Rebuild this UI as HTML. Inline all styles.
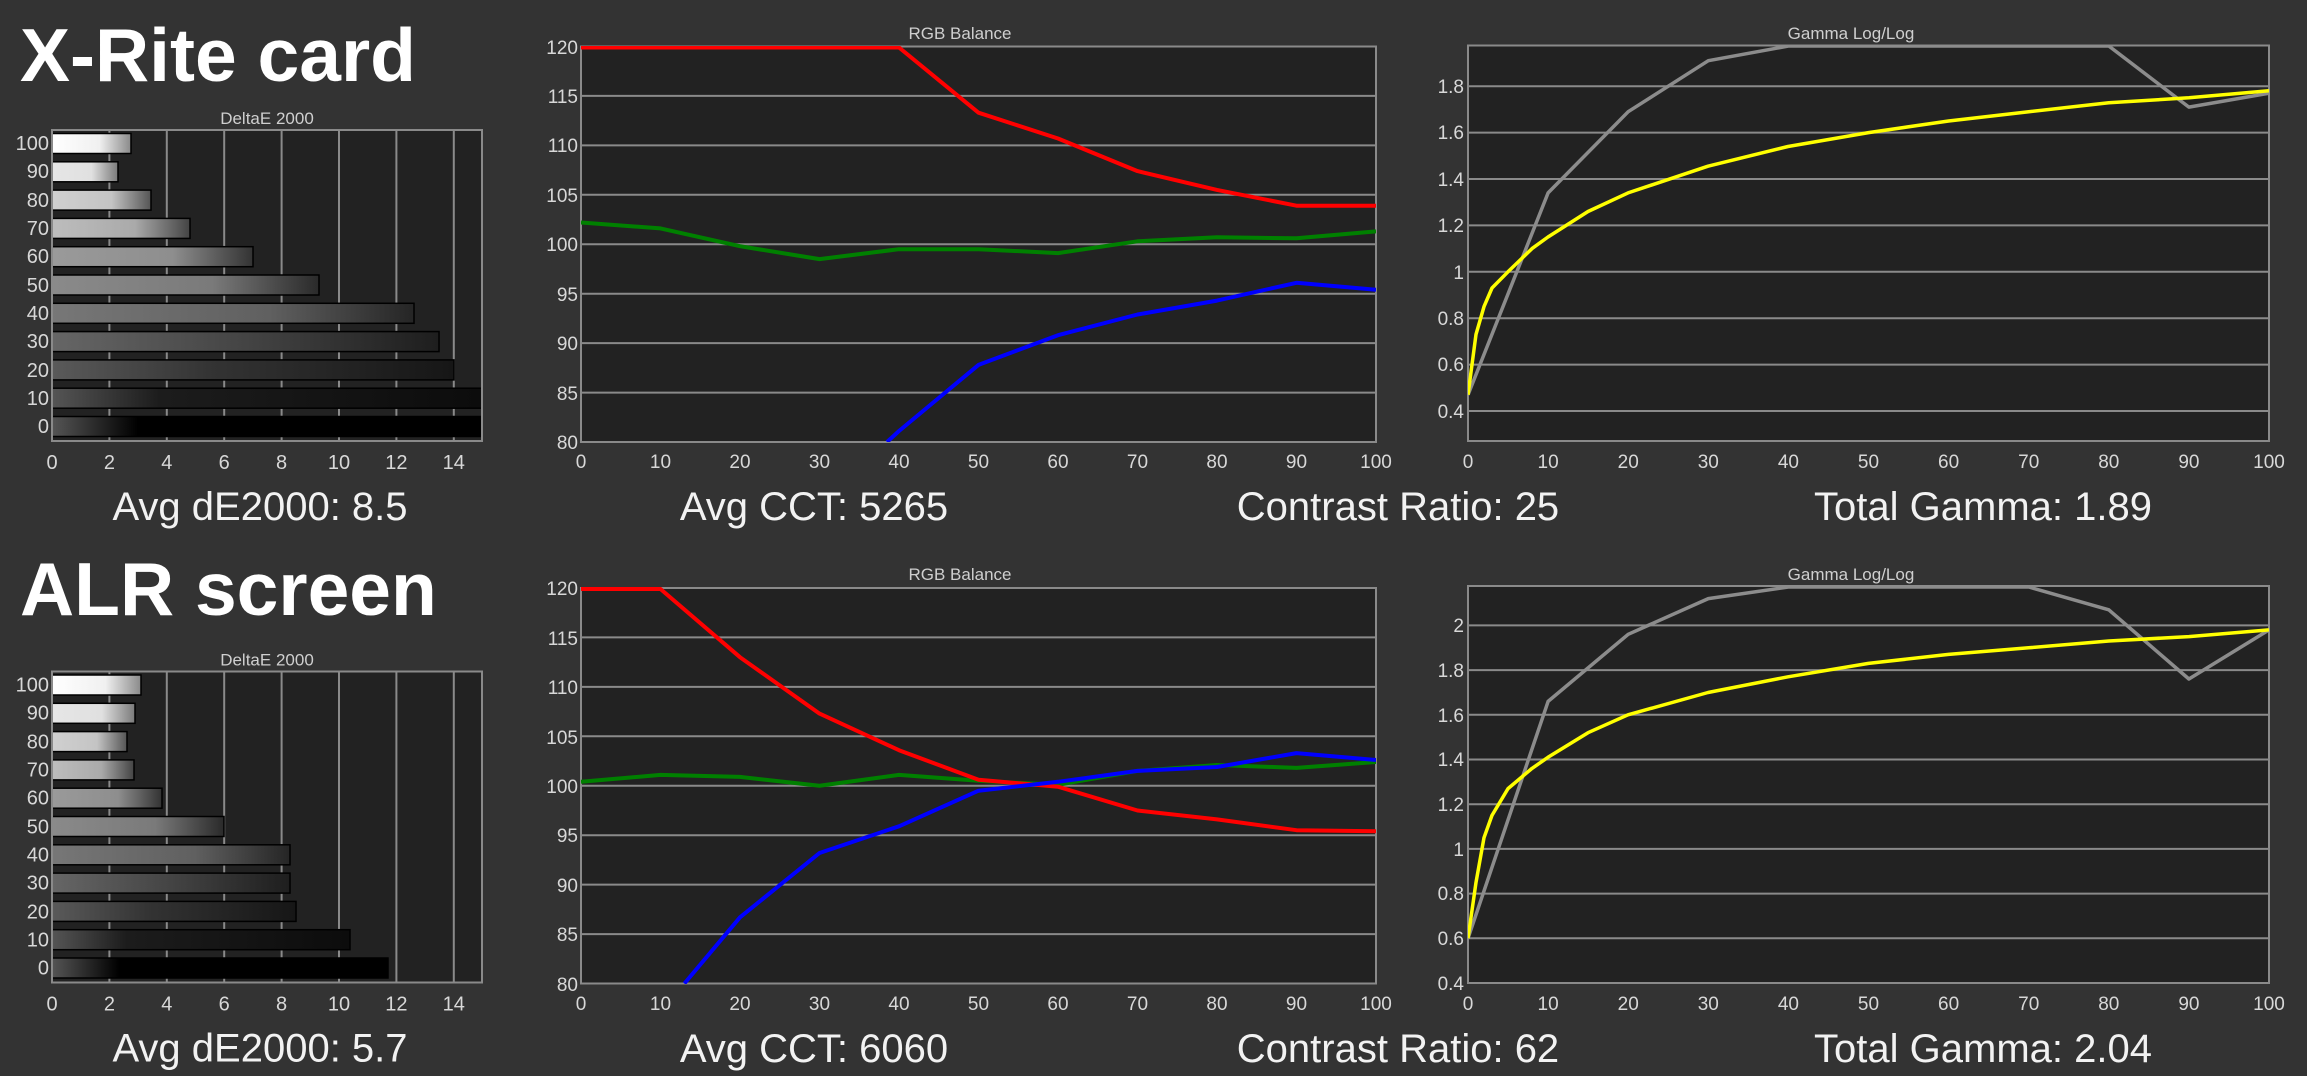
<!DOCTYPE html>
<html><head><meta charset="utf-8"><style>
html,body{margin:0;padding:0;background:#333333;}
svg{display:block;}
text{font-family:"Liberation Sans",sans-serif;fill:#d8d8d8;}
.ax{font-size:19px;}
.dax{font-size:20px;}
.t{font-size:17px;fill:#cfcfcf;}
.big{font-size:75px;font-weight:bold;fill:#fff;}
.st{font-size:40px;fill:#f2f2f2;}
.g{stroke:#8a8a8a;stroke-width:2;}
</style></head><body>
<svg width="2307" height="1076" viewBox="0 0 2307 1076" xmlns="http://www.w3.org/2000/svg">
<defs>
<linearGradient id="b100"><stop offset="0" stop-color="#fff"/><stop offset=".6" stop-color="#f0f0f0"/><stop offset="1" stop-color="#8a8a8a"/></linearGradient>
<linearGradient id="b90"><stop offset="0" stop-color="#e6e6e6"/><stop offset=".6" stop-color="#e0e0e0"/><stop offset="1" stop-color="#7a7a7a"/></linearGradient>
<linearGradient id="b80"><stop offset="0" stop-color="#d0d0d0"/><stop offset=".6" stop-color="#c4c4c4"/><stop offset="1" stop-color="#555"/></linearGradient>
<linearGradient id="b70"><stop offset="0" stop-color="#bdbdbd"/><stop offset=".6" stop-color="#aaa"/><stop offset="1" stop-color="#444"/></linearGradient>
<linearGradient id="b60"><stop offset="0" stop-color="#9a9a9a"/><stop offset=".6" stop-color="#8e8e8e"/><stop offset="1" stop-color="#333"/></linearGradient>
<linearGradient id="b50"><stop offset="0" stop-color="#8a8a8a"/><stop offset=".6" stop-color="#7a7a7a"/><stop offset="1" stop-color="#2a2a2a"/></linearGradient>
<linearGradient id="b40"><stop offset="0" stop-color="#777"/><stop offset=".6" stop-color="#606060"/><stop offset="1" stop-color="#252525"/></linearGradient>
<linearGradient id="b30"><stop offset="0" stop-color="#666"/><stop offset=".5" stop-color="#444"/><stop offset="1" stop-color="#1e1e1e"/></linearGradient>
<linearGradient id="b20"><stop offset="0" stop-color="#5a5a5a"/><stop offset=".4" stop-color="#333"/><stop offset="1" stop-color="#161616"/></linearGradient>
<linearGradient id="b10"><stop offset="0" stop-color="#555"/><stop offset=".25" stop-color="#1c1c1c"/><stop offset="1" stop-color="#0c0c0c"/></linearGradient>
<linearGradient id="b0"><stop offset="0" stop-color="#555"/><stop offset=".2" stop-color="#000"/><stop offset="1" stop-color="#000"/></linearGradient>
<clipPath id="c1"><rect x="581" y="46" width="795" height="396"/></clipPath>
<clipPath id="c2"><rect x="581" y="587" width="795" height="397"/></clipPath>
<clipPath id="c3"><rect x="1468" y="45" width="801" height="396"/></clipPath>
<clipPath id="c4"><rect x="1468" y="585" width="801" height="398"/></clipPath>
</defs>

<text class="big" x="20" y="81">X-Rite card</text>
<text class="big" x="20" y="615">ALR screen</text>

<g>
<text class="t" x="267" y="124" text-anchor="middle">DeltaE 2000</text>
<rect x="52" y="130" width="430" height="311" fill="#222"/>
<g class="g" stroke="#7a7a7a"><line x1="109.4" y1="130" x2="109.4" y2="441"/><line x1="166.8" y1="130" x2="166.8" y2="441"/><line x1="224.2" y1="130" x2="224.2" y2="441"/><line x1="281.6" y1="130" x2="281.6" y2="441"/><line x1="339" y1="130" x2="339" y2="441"/><line x1="396.4" y1="130" x2="396.4" y2="441"/><line x1="453.8" y1="130" x2="453.8" y2="441"/></g>
<g stroke="#000" stroke-width="1.5">
<rect x="52" y="133.5" width="79" height="20" fill="url(#b100)"/>
<rect x="52" y="161.8" width="66" height="20" fill="url(#b90)"/>
<rect x="52" y="190.1" width="99" height="20" fill="url(#b80)"/>
<rect x="52" y="218.4" width="138" height="20" fill="url(#b70)"/>
<rect x="52" y="246.7" width="201" height="20" fill="url(#b60)"/>
<rect x="52" y="275" width="267" height="20" fill="url(#b50)"/>
<rect x="52" y="303.3" width="362" height="20" fill="url(#b40)"/>
<rect x="52" y="331.6" width="387" height="20" fill="url(#b30)"/>
<rect x="52" y="359.9" width="402" height="20" fill="url(#b20)"/>
<rect x="52" y="388.2" width="430" height="20" fill="url(#b10)"/>
<rect x="52" y="416.5" width="430" height="20" fill="url(#b0)"/>
</g>
<rect x="52" y="130" width="430" height="311" fill="none" stroke="#8a8a8a" stroke-width="2"/>
<g class="dax" text-anchor="end">
<text x="49" y="150">100</text><text x="49" y="178">90</text><text x="49" y="207">80</text><text x="49" y="235">70</text><text x="49" y="263">60</text><text x="49" y="292">50</text><text x="49" y="320">40</text><text x="49" y="348">30</text><text x="49" y="377">20</text><text x="49" y="405">10</text><text x="49" y="433">0</text>
</g>
<g class="dax" text-anchor="middle">
<text x="52" y="469">0</text><text x="109.4" y="469">2</text><text x="166.8" y="469">4</text><text x="224.2" y="469">6</text><text x="281.6" y="469">8</text><text x="339" y="469">10</text><text x="396.4" y="469">12</text><text x="453.8" y="469">14</text>
</g>
<text class="st" x="260" y="520" text-anchor="middle">Avg dE2000: 8.5</text>
</g>

<g transform="translate(0,541.5)">
<text class="t" x="267" y="124" text-anchor="middle">DeltaE 2000</text>
<rect x="52" y="130" width="430" height="311" fill="#222"/>
<g class="g" stroke="#7a7a7a"><line x1="109.4" y1="130" x2="109.4" y2="441"/><line x1="166.8" y1="130" x2="166.8" y2="441"/><line x1="224.2" y1="130" x2="224.2" y2="441"/><line x1="281.6" y1="130" x2="281.6" y2="441"/><line x1="339" y1="130" x2="339" y2="441"/><line x1="396.4" y1="130" x2="396.4" y2="441"/><line x1="453.8" y1="130" x2="453.8" y2="441"/></g>
<g stroke="#000" stroke-width="1.5">
<rect x="52" y="133.5" width="89" height="20" fill="url(#b100)"/>
<rect x="52" y="161.8" width="83" height="20" fill="url(#b90)"/>
<rect x="52" y="190.1" width="75" height="20" fill="url(#b80)"/>
<rect x="52" y="218.4" width="82" height="20" fill="url(#b70)"/>
<rect x="52" y="246.7" width="110" height="20" fill="url(#b60)"/>
<rect x="52" y="275" width="172" height="20" fill="url(#b50)"/>
<rect x="52" y="303.3" width="238" height="20" fill="url(#b40)"/>
<rect x="52" y="331.6" width="238" height="20" fill="url(#b30)"/>
<rect x="52" y="359.9" width="244" height="20" fill="url(#b20)"/>
<rect x="52" y="388.2" width="298" height="20" fill="url(#b10)"/>
<rect x="52" y="416.5" width="336" height="20" fill="url(#b0)"/>
</g>
<rect x="52" y="130" width="430" height="311" fill="none" stroke="#8a8a8a" stroke-width="2"/>
<g class="dax" text-anchor="end">
<text x="49" y="150">100</text><text x="49" y="178">90</text><text x="49" y="207">80</text><text x="49" y="235">70</text><text x="49" y="263">60</text><text x="49" y="292">50</text><text x="49" y="320">40</text><text x="49" y="348">30</text><text x="49" y="377">20</text><text x="49" y="405">10</text><text x="49" y="433">0</text>
</g>
<g class="dax" text-anchor="middle">
<text x="52" y="469">0</text><text x="109.4" y="469">2</text><text x="166.8" y="469">4</text><text x="224.2" y="469">6</text><text x="281.6" y="469">8</text><text x="339" y="469">10</text><text x="396.4" y="469">12</text><text x="453.8" y="469">14</text>
</g>
<text class="st" x="260" y="520" text-anchor="middle">Avg dE2000: 5.7</text>
</g>

<g>
<text class="t" x="960" y="39" text-anchor="middle">RGB Balance</text>
<rect x="581" y="46.5" width="795" height="395.5" fill="#222"/>
<g class="g"><line x1="581" y1="392.6" x2="1376" y2="392.6"/><line x1="581" y1="343.1" x2="1376" y2="343.1"/><line x1="581" y1="293.7" x2="1376" y2="293.7"/><line x1="581" y1="244.25" x2="1376" y2="244.25"/><line x1="581" y1="194.8" x2="1376" y2="194.8"/><line x1="581" y1="145.4" x2="1376" y2="145.4"/><line x1="581" y1="95.9" x2="1376" y2="95.9"/></g>
<rect x="581" y="46.5" width="795" height="395.5" fill="none" stroke="#8a8a8a" stroke-width="2"/>
<g clip-path="url(#c1)" fill="none" stroke-width="4" stroke-linejoin="round">
<polyline stroke="#008000" points="581,222.5 660.5,228.4 740,246.2 819.5,259.1 899,249.2 978.5,249.2 1058,253.1 1137.5,241.3 1217,237.3 1296.5,238.3 1376,231.4"/>
<polyline stroke="#0000ff" points="887,442 899,431 978.5,364.9 1058,335.2 1137.5,314.5 1217,300.6 1296.5,282.8 1376,289.7"/>
<polyline stroke="#ff0000" points="581,47.5 899,47.5 978.5,112.7 1058,138.5 1137.5,171.1 1217,189.9 1296.5,205.7 1376,205.7"/>
</g>
<g class="ax" text-anchor="end">
<text x="578" y="54">120</text><text x="578" y="103">115</text><text x="578" y="152">110</text><text x="578" y="202">105</text><text x="578" y="251">100</text><text x="578" y="301">95</text><text x="578" y="350">90</text><text x="578" y="400">85</text><text x="578" y="449">80</text>
</g>
<g class="ax" text-anchor="middle">
<text x="581" y="468">0</text><text x="660.5" y="468">10</text><text x="740" y="468">20</text><text x="819.5" y="468">30</text><text x="899" y="468">40</text><text x="978.5" y="468">50</text><text x="1058" y="468">60</text><text x="1137.5" y="468">70</text><text x="1217" y="468">80</text><text x="1296.5" y="468">90</text><text x="1376" y="468">100</text>
</g>
<text class="st" x="814" y="520" text-anchor="middle">Avg CCT: 5265</text>
<text class="st" x="1398" y="520" text-anchor="middle">Contrast Ratio: 25</text>
</g>

<g>
<text class="t" x="960" y="580" text-anchor="middle">RGB Balance</text>
<rect x="581" y="588" width="795" height="395.5" fill="#222"/>
<g class="g"><line x1="581" y1="934.1" x2="1376" y2="934.1"/><line x1="581" y1="884.6" x2="1376" y2="884.6"/><line x1="581" y1="835.2" x2="1376" y2="835.2"/><line x1="581" y1="785.75" x2="1376" y2="785.75"/><line x1="581" y1="736.3" x2="1376" y2="736.3"/><line x1="581" y1="686.9" x2="1376" y2="686.9"/><line x1="581" y1="637.4" x2="1376" y2="637.4"/></g>
<rect x="581" y="588" width="795" height="395.5" fill="none" stroke="#8a8a8a" stroke-width="2"/>
<g clip-path="url(#c2)" fill="none" stroke-width="4" stroke-linejoin="round">
<polyline stroke="#008000" points="581,781.8 660.5,774.9 740,776.9 819.5,785.75 899,774.9 978.5,780.8 1058,784.8 1137.5,770.9 1217,765 1296.5,767.9 1376,762"/>
<polyline stroke="#ff0000" points="581,589 660.5,589 740,657.2 819.5,713.6 899,750.2 978.5,779.8 1058,786.7 1137.5,810.5 1217,819.4 1296.5,830.2 1376,831.2"/>
<polyline stroke="#0000ff" points="684.4,983.5 740,917.3 819.5,853 899,826.3 978.5,790.7 1058,781.8 1137.5,770.9 1217,767 1296.5,753.1 1376,760"/>
</g>
<g class="ax" text-anchor="end">
<text x="578" y="595">120</text><text x="578" y="645">115</text><text x="578" y="694">110</text><text x="578" y="744">105</text><text x="578" y="793">100</text><text x="578" y="842">95</text><text x="578" y="892">90</text><text x="578" y="941">85</text><text x="578" y="991">80</text>
</g>
<g class="ax" text-anchor="middle">
<text x="581" y="1010">0</text><text x="660.5" y="1010">10</text><text x="740" y="1010">20</text><text x="819.5" y="1010">30</text><text x="899" y="1010">40</text><text x="978.5" y="1010">50</text><text x="1058" y="1010">60</text><text x="1137.5" y="1010">70</text><text x="1217" y="1010">80</text><text x="1296.5" y="1010">90</text><text x="1376" y="1010">100</text>
</g>
<text class="st" x="814" y="1062" text-anchor="middle">Avg CCT: 6060</text>
<text class="st" x="1398" y="1062" text-anchor="middle">Contrast Ratio: 62</text>
</g>

<g>
<text class="t" x="1851" y="39" text-anchor="middle">Gamma Log/Log</text>
<rect x="1468" y="45.5" width="801" height="395.5" fill="#222"/>
<g class="g"><line x1="1468" y1="411" x2="2269" y2="411"/><line x1="1468" y1="364.6" x2="2269" y2="364.6"/><line x1="1468" y1="318.2" x2="2269" y2="318.2"/><line x1="1468" y1="271.8" x2="2269" y2="271.8"/><line x1="1468" y1="225.4" x2="2269" y2="225.4"/><line x1="1468" y1="179" x2="2269" y2="179"/><line x1="1468" y1="132.6" x2="2269" y2="132.6"/><line x1="1468" y1="86.2" x2="2269" y2="86.2"/></g>
<rect x="1468" y="45.5" width="801" height="395.5" fill="none" stroke="#8a8a8a" stroke-width="2"/>
<g clip-path="url(#c3)" fill="none" stroke-linejoin="round">
<polyline stroke="#8c8c8c" stroke-width="3.5" points="1468,394.8 1548.1,192.9 1628.2,111.7 1708.3,60.7 1788.4,46 2108.8,46 2188.9,107.1 2269,93.2"/>
<polyline stroke="#ffff00" stroke-width="3.5" points="1468,394.8 1476,334.4 1484,306.6 1492,288 1508,271.8 1532,248.6 1548,237 1588,211.5 1628,192.9 1708,166.2 1788,146.5 1868.5,132.6 1948.6,121 2028.7,111.7 2108.8,102.8 2188.9,97.8 2269,90.8"/>
</g>
<g class="ax" text-anchor="end">
<text x="1464" y="93">1.8</text><text x="1464" y="139">1.6</text><text x="1464" y="186">1.4</text><text x="1464" y="232">1.2</text><text x="1464" y="279">1</text><text x="1464" y="325">0.8</text><text x="1464" y="371">0.6</text><text x="1464" y="418">0.4</text>
</g>
<g class="ax" text-anchor="middle">
<text x="1468" y="468">0</text><text x="1548.1" y="468">10</text><text x="1628.2" y="468">20</text><text x="1708.3" y="468">30</text><text x="1788.4" y="468">40</text><text x="1868.5" y="468">50</text><text x="1948.6" y="468">60</text><text x="2028.7" y="468">70</text><text x="2108.8" y="468">80</text><text x="2188.9" y="468">90</text><text x="2269" y="468">100</text>
</g>
<text class="st" x="1983" y="520" text-anchor="middle">Total Gamma: 1.89</text>
</g>

<g>
<text class="t" x="1851" y="580" text-anchor="middle">Gamma Log/Log</text>
<rect x="1468" y="586" width="801" height="397" fill="#222"/>
<g class="g"><line x1="1468" y1="938.3" x2="2269" y2="938.3"/><line x1="1468" y1="893.6" x2="2269" y2="893.6"/><line x1="1468" y1="848.9" x2="2269" y2="848.9"/><line x1="1468" y1="804.2" x2="2269" y2="804.2"/><line x1="1468" y1="759.5" x2="2269" y2="759.5"/><line x1="1468" y1="714.8" x2="2269" y2="714.8"/><line x1="1468" y1="670.1" x2="2269" y2="670.1"/><line x1="1468" y1="625.4" x2="2269" y2="625.4"/></g>
<rect x="1468" y="586" width="801" height="397" fill="none" stroke="#8a8a8a" stroke-width="2"/>
<g clip-path="url(#c4)" fill="none" stroke-linejoin="round">
<polyline stroke="#8c8c8c" stroke-width="3.5" points="1468,938.3 1548.1,701.4 1628.2,634.3 1708.3,598.6 1788.4,587 2028.7,587 2108.8,609.8 2188.9,679 2269,629.9"/>
<polyline stroke="#ffff00" stroke-width="3.5" points="1468,938.3 1476,882.4 1484,837.7 1492,815.4 1508,788.6 1532,768.4 1548,757.3 1588,732.7 1628,714.8 1708,692.5 1788,676.8 1868.5,663.4 1948.6,654.4 2028.7,647.8 2108.8,641 2188.9,636.6 2269,629.9"/>
</g>
<g class="ax" text-anchor="end">
<text x="1464" y="632">2</text><text x="1464" y="677">1.8</text><text x="1464" y="722">1.6</text><text x="1464" y="766">1.4</text><text x="1464" y="811">1.2</text><text x="1464" y="856">1</text><text x="1464" y="900">0.8</text><text x="1464" y="945">0.6</text><text x="1464" y="990">0.4</text>
</g>
<g class="ax" text-anchor="middle">
<text x="1468" y="1010">0</text><text x="1548.1" y="1010">10</text><text x="1628.2" y="1010">20</text><text x="1708.3" y="1010">30</text><text x="1788.4" y="1010">40</text><text x="1868.5" y="1010">50</text><text x="1948.6" y="1010">60</text><text x="2028.7" y="1010">70</text><text x="2108.8" y="1010">80</text><text x="2188.9" y="1010">90</text><text x="2269" y="1010">100</text>
</g>
<text class="st" x="1983" y="1062" text-anchor="middle">Total Gamma: 2.04</text>
</g>
</svg>
</body></html>
